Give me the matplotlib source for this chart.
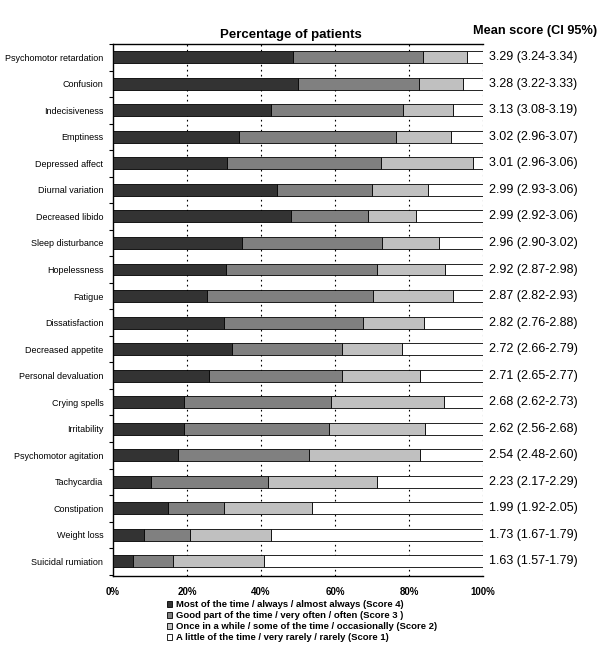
import matplotlib.pyplot as plt
from matplotlib.patches import Patch

plt.rcParams["font.family"] = ["Liberation Sans", "DejaVu Sans"]

symptoms = ["Psychomotor retardation", "Confusion", "Indecisiveness", "Emptiness",
            "Depressed affect", "Diurnal variation", "Decreased libido",
            "Sleep disturbance", "Hopelessness", "Fatigue", "Dissatisfaction",
            "Decreased appetite", "Personal devaluation", "Crying spells",
            "Irritability", "Psychomotor agitation", "Tachycardia", "Constipation",
            "Weight loss", "Suicidal rumiation"]

# percentage of patients per answer (score 4, 3, 2, 1)
score4 = [48.6, 50.0, 42.6, 34.0, 30.8, 44.2, 48.1, 35.0, 30.6, 25.3,
          29.9, 32.3, 26.0, 19.3, 19.3, 17.7, 10.2, 14.8, 8.5, 5.5]
score3 = [35.2, 32.7, 35.8, 42.5, 41.5, 25.8, 20.7, 37.8, 40.7, 44.9,
          37.7, 29.5, 35.8, 39.5, 39.0, 35.3, 31.6, 15.3, 12.4, 10.6]
score2 = [11.9, 11.9, 13.6, 14.9, 25.0, 15.2, 13.0, 15.4, 18.5, 21.8,
          16.5, 16.4, 21.1, 30.7, 26.1, 30.0, 29.5, 23.6, 21.9, 24.8]
score1 = [4.3, 5.4, 8.0, 8.6, 2.7, 14.8, 18.2, 11.8, 10.2, 8.0,
          15.9, 21.8, 17.1, 10.5, 15.6, 17.0, 28.7, 46.3, 57.2, 59.1]

mean_scores = ["3.29 (3.24-3.34)", "3.28 (3.22-3.33)", "3.13 (3.08-3.19)",
               "3.02 (2.96-3.07)", "3.01 (2.96-3.06)", "2.99 (2.93-3.06)",
               "2.99 (2.92-3.06)", "2.96 (2.90-3.02)", "2.92 (2.87-2.98)",
               "2.87 (2.82-2.93)", "2.82 (2.76-2.88)", "2.72 (2.66-2.79)",
               "2.71 (2.65-2.77)", "2.68 (2.62-2.73)", "2.62 (2.56-2.68)",
               "2.54 (2.48-2.60)", "2.23 (2.17-2.29)", "1.99 (1.92-2.05)",
               "1.73 (1.67-1.79)", "1.63 (1.57-1.79)"]

legend_labels = ["Most of the time / always / almost always (Score 4)",
                 "Good part of the time / very often / often (Score 3 )",
                 "Once in a while / some of the time / occasionally (Score 2)",
                 "A little of the time / very rarely / rarely (Score 1)"]
colors = ["#333333", "#808080", "#c0c0c0", "#ffffff"]

fig = plt.figure(figsize=(6, 6.45), dpi=100)
ax = fig.add_axes([0.1883, 0.107, 0.6167, 0.8248])

y = list(range(len(symptoms)))
left = [0.0] * len(symptoms)
for vals, c in zip([score4, score3, score2, score1], colors):
    ax.barh(y, vals, left=left, height=0.45, color=c, edgecolor="black",
            linewidth=0.6, zorder=3)
    left = [a + b for a, b in zip(left, vals)]

ax.set_xlim(0, 100)
ax.set_ylim(len(symptoms) - 0.45, -0.5)

for gx in [20, 40, 60, 80, 100]:
    ax.axvline(gx, color="black", linestyle=(0, (1.5, 3)), linewidth=0.8, zorder=1)

ax.set_xticks([0, 20, 40, 60, 80, 100])
ax.set_xticklabels(["0%", "20%", "40%", "60%", "80%", "100%"],
                   fontsize=7, fontweight="bold")
ax.tick_params(axis="x", length=0, pad=8)

ax.set_yticks(y)
ax.set_yticklabels(symptoms, fontsize=6.5)
ax.tick_params(axis="y", which="major", length=0, pad=7)
ax.set_yticks([i + 0.5 for i in range(-1, len(symptoms))], minor=True)
ax.tick_params(axis="y", which="minor", length=3, width=0.8, direction="out")

ax.spines["right"].set_visible(False)
for s in ["left", "top", "bottom"]:
    ax.spines[s].set_linewidth(1.0)

for i, txt in enumerate(mean_scores):
    ax.text(101.5, i, txt, fontsize=9, va="center", ha="left")

fig.text(0.485, 0.945, "Percentage of patients", fontsize=9.5, fontweight="bold",
         ha="center", va="center")
fig.text(0.995, 0.952, "Mean score (CI 95%)", fontsize=9.2, fontweight="bold",
         ha="right", va="center")

handles = [Patch(facecolor=c, edgecolor="black", linewidth=0.6) for c in colors]
fig.legend(handles, legend_labels, loc="upper left", bbox_to_anchor=(0.278, 0.069),
           frameon=False, prop={"size": 6.8, "weight": "bold"},
           handlelength=0.6, handleheight=0.6, handletextpad=0.4,
           labelspacing=0.2, borderpad=0, borderaxespad=0)

fig.savefig("out.png", dpi=100)
